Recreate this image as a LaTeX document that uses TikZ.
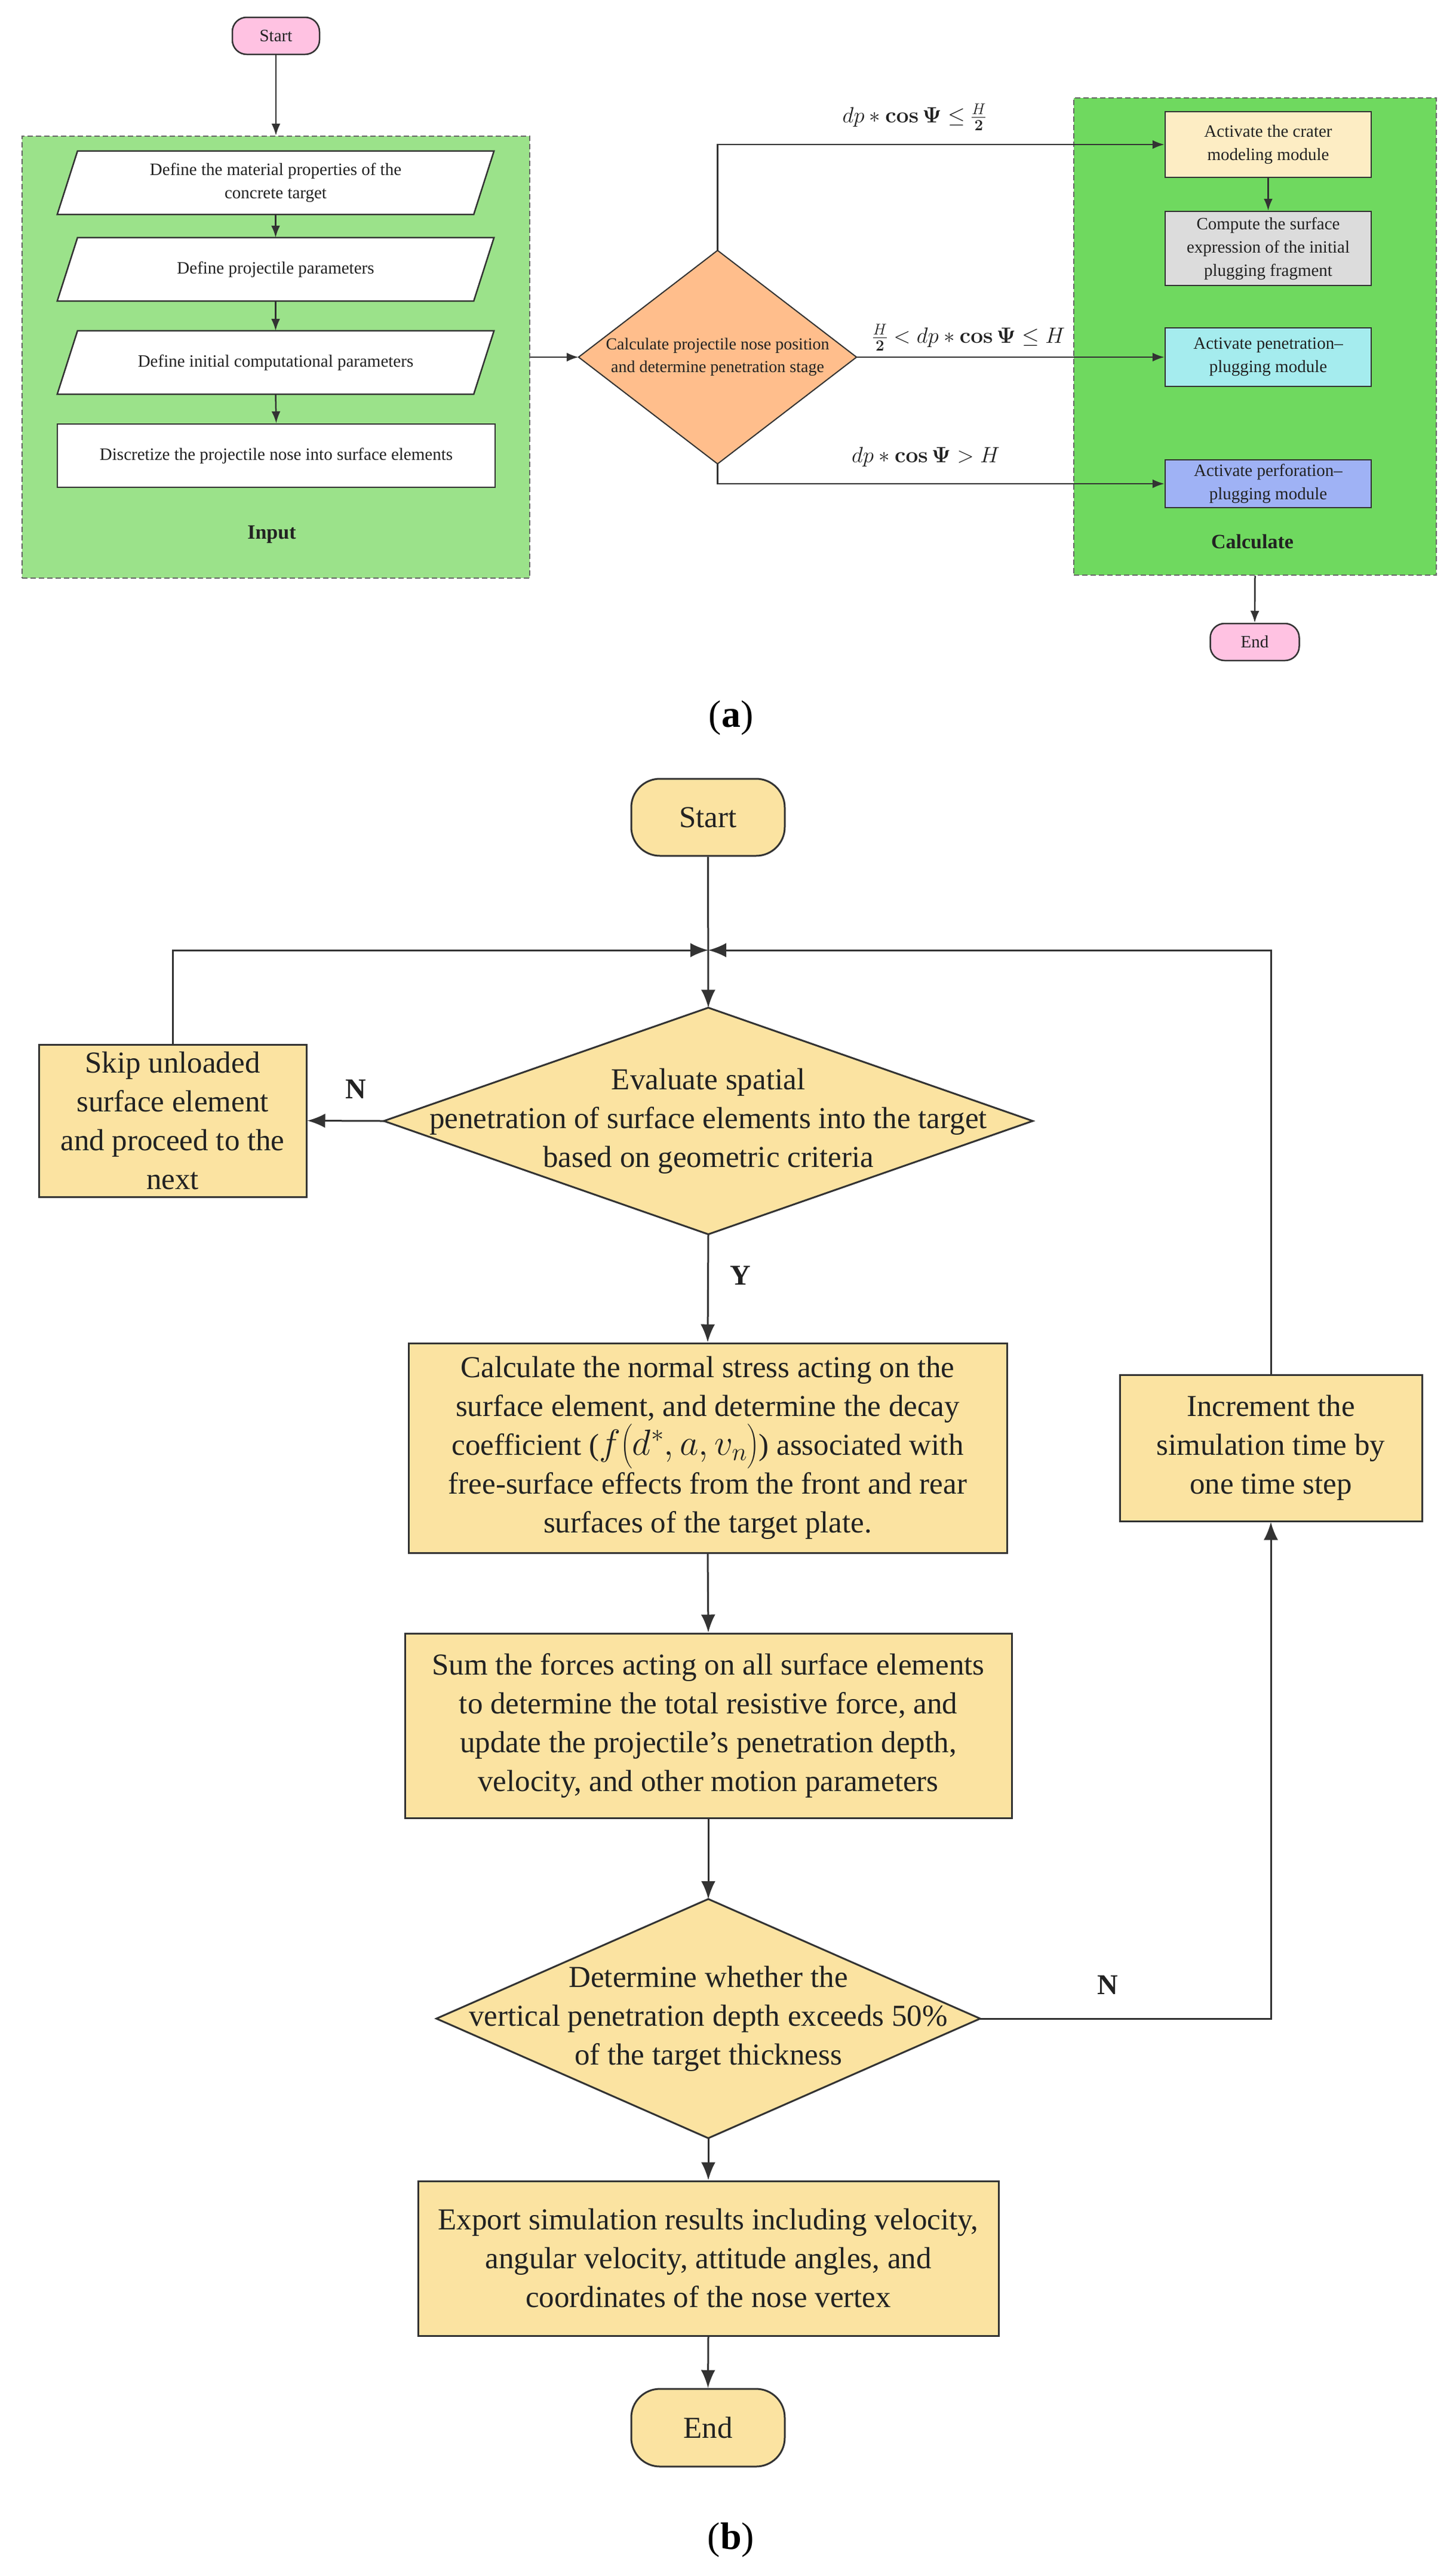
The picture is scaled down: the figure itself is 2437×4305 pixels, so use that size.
\RequirePackage{fix-cm}
\documentclass[tikz,border=0pt]{standalone}
\usepackage[no-math]{fontspec}
\setmainfont{Liberation Serif}
\usepackage{amsmath}
\usetikzlibrary{arrows.meta,backgrounds}

\definecolor{lineC}{HTML}{333333}
\definecolor{txtC}{HTML}{222222}
\definecolor{pinkA}{HTML}{FFC2E2}
\definecolor{greenIn}{HTML}{9BE28A}
\definecolor{greenCalc}{HTML}{6FD95F}
\definecolor{orangeA}{HTML}{FFBE8C}
\definecolor{craterC}{HTML}{FDEDC4}
\definecolor{grayC}{HTML}{DCDCDC}
\definecolor{cyanC}{HTML}{A5ECEE}
\definecolor{blueC}{HTML}{9FB2F5}
\definecolor{tanB}{HTML}{FBE3A1}
\definecolor{dashC}{HTML}{666666}

\begin{document}
\begin{tikzpicture}[x=1pt,y=-1pt,
  lineA/.style={draw=lineC, line width=2.5pt},
  arrA/.style={lineA, -{Latex[length=20pt,width=15pt]}},
  lineB/.style={draw=lineC, line width=3pt},
  arrB/.style={lineB, -{Latex[length=30pt,width=24pt]}},
  txtA/.style={font=\fontsize{29}{39}\selectfont, text=txtC, align=center, inner sep=0pt},
  boxA/.style={txtA, draw=lineC, line width=2.5pt},
  termA/.style={boxA, fill=pinkA, rounded corners=24pt},
  panel/.style={draw=dashC, line width=2pt, dash pattern=on 9pt off 5pt, inner sep=0pt},
  paneltitle/.style={font=\fontsize{34}{40}\selectfont\bfseries, text=txtC, inner sep=0pt},
  mathlbl/.style={font=\fontsize{37}{42}\selectfont, text=txtC, inner sep=0pt},
  txtB/.style={font=\fontsize{51}{65}\selectfont, text=txtC, align=center, inner sep=0pt},
  boxB/.style={txtB, draw=lineC, line width=3pt, fill=tanB},
  termB/.style={boxB, rounded corners=48pt},
  ynlbl/.style={font=\fontsize{48}{50}\selectfont\bfseries, text=txtC, inner sep=0pt},
  caption/.style={font=\fontsize{64}{70}\selectfont, text=black, inner sep=0pt}
]
\useasboundingbox (0,0) rectangle (2437,4305);

% ---------- background panels ----------
\begin{scope}[on background layer]
  \fill[white] (0,0) rectangle (2437,4305);
  \node[panel, fill=greenIn, minimum width=850pt, minimum height=740pt] (inp) at (462,598) {};
  \node[panel, fill=greenCalc, minimum width=607pt, minimum height=799pt] (calcP) at (2101.5,563.5) {};
\end{scope}

% ================= (a) =================
\node[termA, minimum width=146pt, minimum height=62pt] (startA) at (462,60) {Start};

\node[txtA, minimum width=697pt, minimum height=106pt] (p1) at (461.5,306) {Define the material properties of the\\concrete target};
\node[txtA, minimum width=697pt, minimum height=106pt] (p2) at (461.5,451) {Define projectile parameters};
\node[txtA, minimum width=697pt, minimum height=106pt] (p3) at (461.5,607) {Define initial computational parameters};
\node[boxA, fill=white, minimum width=733pt, minimum height=106pt] (p4) at (462.5,763) {Discretize the projectile nose into surface elements};
\node[paneltitle] (inTitle) at (455,895) {Input};

\node[txtA, font=\fontsize{28}{38}\selectfont, minimum width=465pt, minimum height=357pt] (dA) at (1201.5,598) {Calculate projectile nose position\\and determine penetration stage};

\node[boxA, fill=craterC, minimum width=345pt, minimum height=110pt] (crater) at (2123.5,242) {Activate the crater\\modeling module};
\node[boxA, fill=grayC, minimum width=345pt, minimum height=124pt] (compute) at (2123.5,416) {Compute the surface\\expression of the initial\\plugging fragment};
\node[boxA, fill=cyanC, minimum width=345pt, minimum height=98pt] (penet) at (2123.5,598) {Activate penetration–\\plugging module};
\node[boxA, fill=blueC, minimum width=345pt, minimum height=80pt] (perfor) at (2123.5,810) {Activate perforation–\\plugging module};
\node[paneltitle] (calcTitle) at (2097,907) {Calculate};

\node[termA, minimum width=149pt, minimum height=62pt] (endA) at (2101,1075) {End};

\node[mathlbl] (l1) at (1531,196) {$dp\ast\mathbf{cos\,\Psi}\le\frac{H}{\mathbf{2}}$};
\node[mathlbl] (l2) at (1622,565) {$\frac{H}{\mathbf{2}}<dp\ast\mathbf{cos\,\Psi}\le H$};
\node[mathlbl] (l3) at (1550,765) {$dp\ast\mathbf{cos\,\Psi}>H$};

\node[caption] (capA) at (1224,1202) {(\textbf{a})};

% shapes drawn behind text
\begin{scope}[on background layer]
  \foreach \n in {p1,p2,p3}{
    \draw[lineA, fill=white] ([xshift=-17pt]\n.south west) -- ([xshift=17pt]\n.north west)
      -- ([xshift=17pt]\n.north east) -- ([xshift=-17pt]\n.south east) -- cycle;
  }
  \draw[lineA, line width=2pt, fill=orangeA] (dA.north) -- (dA.east) -- (dA.south) -- (dA.west) -- cycle;
\end{scope}

% connectors (a)
\draw[arrA] (startA.south) -- (inp.north);
\draw[arrA] (p1.south) -- (p2.north);
\draw[arrA] (p2.south) -- (p3.north);
\draw[arrA] (p3.south) -- (p4.north);
\draw[arrA] (inp.east) -- (dA.west);
\draw[arrA] (dA.north) |- (crater.west);
\draw[arrA] (dA.east) -- (penet.west);
\draw[arrA] (dA.south) |- (perfor.west);
\draw[arrA] (crater.south) -- (compute.north);
\draw[arrA] (calcP.south) -- (endA.north);

% ================= (b) =================
\node[termB, minimum width=257pt, minimum height=129pt] (startB) at (1185.5,1368.5) {Start};
\coordinate (J) at (1186,1591);

\node[txtB, minimum width=1086pt, minimum height=379pt] (d1) at (1186,1877) {Evaluate spatial\\penetration of surface elements into the target\\based on geometric criteria};
\node[boxB, minimum width=448pt, minimum height=255pt] (skip) at (289,1876.5) {Skip unloaded\\surface element\\and proceed to the\\next};
\node[boxB, minimum width=1002pt, minimum height=351pt] (calc) at (1185,2424.5) {Calculate the normal stress acting on the\\surface element, and determine the decay\\coefficient ({\fontsize{61}{65}\selectfont$f\bigl(d^{*},a,v_{n}\bigr)$}) associated with\\free-surface effects from the front and rear\\surfaces of the target plate.};
\node[boxB, minimum width=1016pt, minimum height=309pt] (sum) at (1186,2889.5) {Sum the forces acting on all surface elements\\to determine the total resistive force, and\\update the projectile’s penetration depth,\\velocity, and other motion parameters};
\node[txtB, minimum width=910pt, minimum height=400pt] (d2) at (1186,3380) {Determine whether the\\vertical penetration depth exceeds 50\%\\of the target thickness};
\node[boxB, minimum width=506pt, minimum height=245pt] (incr) at (2128,2424.5) {Increment the\\simulation time by\\one time step};
\node[boxB, minimum width=972pt, minimum height=259pt] (export) at (1186,3781.5) {Export simulation results including velocity,\\angular velocity, attitude angles, and\\coordinates of the nose vertex};
\node[termB, minimum width=257pt, minimum height=130pt] (endB) at (1185.5,4065) {End};

\node[ynlbl] (nL) at (596,1824) {N};
\node[ynlbl] (yL) at (1240,2136) {Y};
\node[ynlbl] (nR) at (1855,3324) {N};

\node[caption] (capB) at (1224,4253) {(\textbf{b})};

\begin{scope}[on background layer]
  \draw[lineB, fill=tanB] (d1.north) -- (d1.east) -- (d1.south) -- (d1.west) -- cycle;
  \draw[lineB, fill=tanB] (d2.north) -- (d2.east) -- (d2.south) -- (d2.west) -- cycle;
\end{scope}

% connectors (b)
\draw[arrB] (startB.south) -- (d1.north);
\draw[arrB] (skip.north) |- (J);
\draw[arrB] (incr.north) |- (J);
\draw[arrB] (d1.west) -- (skip.east);
\draw[arrB] (d1.south) -- (calc.north);
\draw[arrB] (calc.south) -- (sum.north);
\draw[arrB] (sum.south) -- (d2.north);
\draw[arrB] (d2.south) -- (export.north);
\draw[arrB] (export.south) -- (endB.north);
\draw[arrB] (d2.east) -| (incr.south);
\end{tikzpicture}
\end{document}
